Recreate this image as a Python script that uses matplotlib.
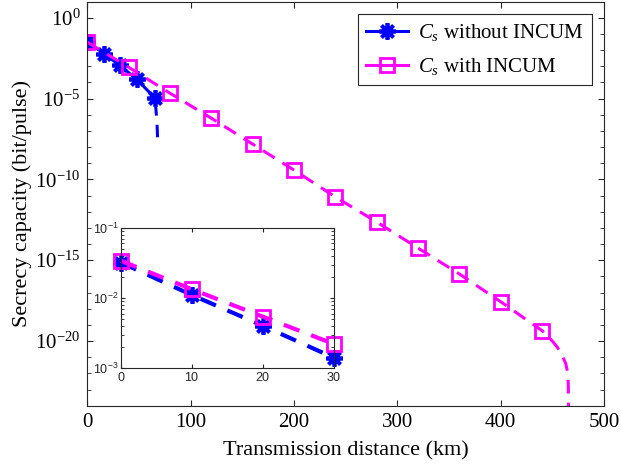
import matplotlib
matplotlib.use('Agg')
import matplotlib.pyplot as plt
from matplotlib.lines import Line2D
from matplotlib.ticker import LogLocator, NullFormatter, FixedLocator

# --- dados ---
# com INCUM (marcadores a cada 40 km + cauda ate o corte)
d_with = [0, 40, 80, 120, 160, 200, 240, 280, 320, 360, 400, 440,
          445, 450, 455, 460, 463, 465, 465.5, 465.8]
cs_with = [3.0e-2, 8.5e-4, 2.1e-5, 6.0e-7, 1.5e-8, 3.7e-10, 8.1e-12,
           2.3e-13, 5.6e-15, 1.4e-16, 2.7e-18, 4.4e-20,
           2.2e-20, 1.0e-20, 4.0e-21, 1.1e-21, 4.0e-22, 1.0e-22,
           1.6e-23, 1e-26]
n_mk_with = 12

# sem INCUM
d_without = [0, 16, 31, 48, 65, 66.3, 67.2, 67.6, 67.8]
cs_without = [3.1e-2, 6.0e-3, 1.15e-3, 1.5e-4, 1.1e-5,
              2.0e-6, 3.5e-7, 1.0e-7, 4.0e-8]
n_mk_without = 5

# detalhe (0-30 km)
d_zoom = [0, 10, 20, 30]
zoom_with = [3.4e-2, 1.33e-2, 5.4e-3, 2.2e-3]
zoom_without = [3.2e-2, 1.1e-2, 4.0e-3, 1.4e-3]

BLUE = '#0000ff'
MAG = '#ff00ff'
STAR = (8, 2, 0)
DASH = (4.5, 3)

plt.rcParams['font.family'] = ['Liberation Serif', 'DejaVu Serif']
plt.rcParams['mathtext.fontset'] = 'custom'
plt.rcParams['mathtext.rm'] = 'Liberation Serif'
plt.rcParams['mathtext.it'] = 'Liberation Serif:italic'
plt.rcParams['mathtext.sf'] = 'Liberation Sans'

fig = plt.figure(figsize=(6.21, 4.70), dpi=100)
ax = fig.add_axes([0.1409, 0.1368, 0.8317, 0.8600])

ax.plot(d_without, cs_without, color=BLUE, lw=2.2, dashes=DASH,
        marker=STAR, ms=12, mew=2.7, markevery=list(range(n_mk_without)))
ax.plot(d_with, cs_with, color=MAG, lw=2.2, dashes=DASH,
        marker='s', ms=10, mew=2, mfc='none', markevery=list(range(n_mk_with)))

ax.set_yscale('log')
ax.set_xlim(0, 500)
ax.set_ylim(1e-24, 1e1)
ax.set_xticks([0, 100, 200, 300, 400, 500])
ax.yaxis.set_major_locator(FixedLocator([1e-20, 1e-15, 1e-10, 1e-5, 1e0]))
ax.yaxis.set_minor_locator(FixedLocator([10.0 ** k for k in range(-24, 2)]))
ax.yaxis.set_minor_formatter(NullFormatter())
ax.tick_params(which='both', direction='in', top=True, right=True,
               labelsize=15, colors='#262626', labelcolor='black')
ax.tick_params(which='major', length=4, pad=5)
ax.tick_params(which='minor', length=3)
for s in ax.spines.values():
    s.set_color('#262626')
    s.set_linewidth(0.8)
ax.set_xlabel('Transmission distance (km)', fontsize=16, labelpad=7)
ax.set_ylabel('Secrecy capacity (bit/pulse)', fontsize=16, labelpad=2)

h = [Line2D([], [], color=BLUE, lw=2.2, marker=STAR, ms=12, mew=2.7),
     Line2D([], [], color=MAG, lw=2.2, marker='s', ms=10, mew=2, mfc='none')]
leg = ax.legend(h, [r'$C_s$ without INCUM', r'$C_s$ with INCUM'],
                loc='upper right', bbox_to_anchor=(0.977, 0.969),
                borderaxespad=0, fontsize=15, fancybox=False,
                edgecolor='#262626', framealpha=1, handlelength=2.0,
                handletextpad=0.5, borderpad=0.4, labelspacing=0.6)
leg.get_frame().set_linewidth(0.8)

# --- grafico interno ---
ins = fig.add_axes([0.1948, 0.217, 0.343, 0.298])
ins.plot(d_zoom, zoom_without, color=BLUE, lw=3, dashes=(4, 3),
         marker=STAR, ms=12, mew=2.7, clip_on=False)
ins.plot(d_zoom, zoom_with, color=MAG, lw=3, dashes=(4, 3),
         marker='s', ms=10, mew=2, mfc='none', clip_on=False)
ins.set_yscale('log')
ins.set_xlim(0, 30)
ins.set_ylim(1e-3, 1e-1)
ins.set_xticks([0, 10, 20, 30])
ins.set_xticklabels([r'$\mathsf{%d}$' % v for v in d_zoom])
ins.set_yticks([1e-3, 1e-2, 1e-1])
ins.set_yticklabels([r'$\mathsf{10^{-3}}$', r'$\mathsf{10^{-2}}$',
                     r'$\mathsf{10^{-1}}$'])
ins.yaxis.set_minor_locator(LogLocator(base=10, subs=range(2, 10)))
ins.yaxis.set_minor_formatter(NullFormatter())
ins.tick_params(which='both', direction='in', top=True, right=True,
                labelsize=9, colors='#262626', labelcolor='#262626', pad=2)
ins.tick_params(which='major', length=3)
ins.tick_params(which='minor', length=2)
for s in ins.spines.values():
    s.set_color('#262626')
    s.set_linewidth(0.8)

fig.savefig('out.png', dpi=100)
